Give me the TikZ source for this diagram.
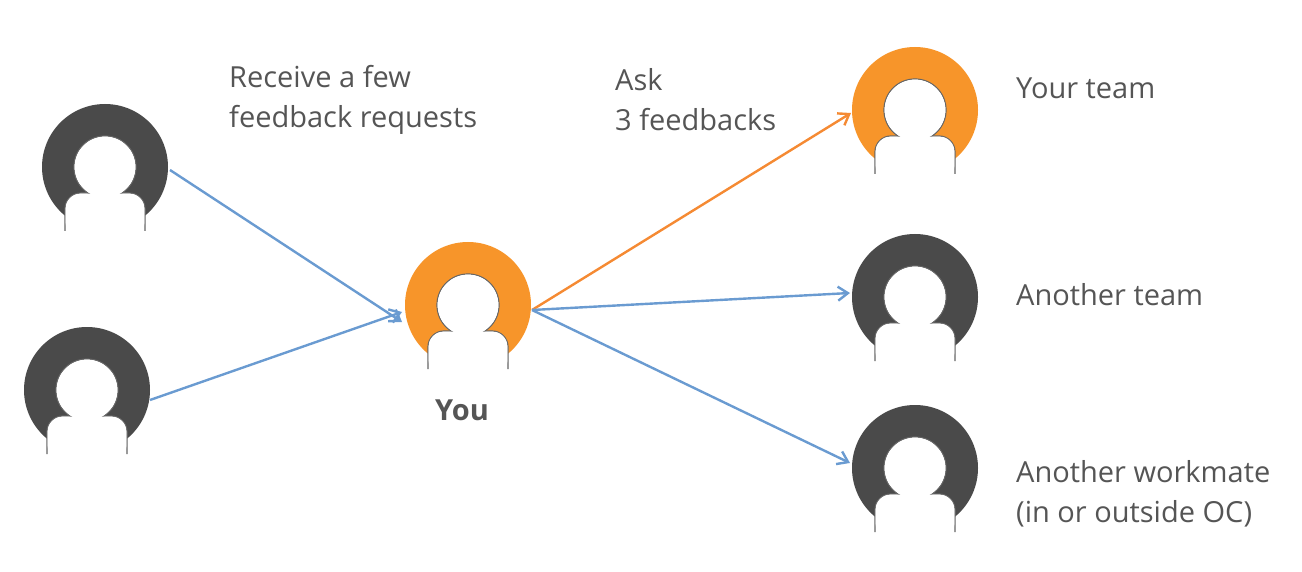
\documentclass[tikz,border=0pt]{standalone}
\usepackage{fontspec}
\setmainfont{Open Sans}
\begin{document}
\begin{tikzpicture}[x=1pt,y=-1pt,
  lbl/.style={font=\fontsize{29}{40}\selectfont, text=txt, align=left, anchor=west, inner sep=0},
  conn/.style={line width=2.4pt, -{Straight Barb[length=10pt,width=14pt]}}]
\definecolor{txt}{HTML}{555555}
\definecolor{dk}{HTML}{4A4A4A}
\definecolor{og}{HTML}{F7952A}
\definecolor{bl}{HTML}{6A9BD1}
\definecolor{oa}{HTML}{F58A33}
\usetikzlibrary{arrows.meta}
\useasboundingbox (0,0) rectangle (1302,572);
\newcommand{\usericon}[4]{% name, x, y, color
  \node[circle, fill=#4, minimum size=126pt, inner sep=0] (#1) at (#2,#3) {};
  \begin{scope}[shift={(#2,#3)}]
    \filldraw[white, draw=dk!85, line width=1.2pt, rounded corners=16pt]
      (-40,64) -- (-40,26) -- (40,26) -- (40,64);
    \filldraw[white, draw=dk!85, line width=1.2pt] (0,0) circle (31);
    \fill[white, rounded corners=15pt] (-39.4,70) -- (-39.4,26.6) -- (39.4,26.6) -- (39.4,70) -- cycle;
    \fill[white] (0,0) circle (30.4);
  \end{scope}}
\usericon{l1}{105}{167}{dk}
\usericon{l2}{87}{390}{dk}
\usericon{you}{468}{305}{og}
\usericon{t1}{915}{110}{og}
\usericon{t2}{915}{297}{dk}
\usericon{t3}{915}{468}{dk}
\coordinate (a1) at (170,170);
\coordinate (a2) at (150,400);
\draw[conn, bl] (a1) -- (402,322);
\draw[conn, bl] (a2) -- (402,312);
\coordinate (o) at (532,310);
\draw[conn, oa] (o) -- (851,113);
\draw[conn, bl] (o) -- (850,293);
\draw[conn, bl] (o) -- (850,463);
\node[lbl] (r) at (229,100) {Receive a few\\feedback requests};
\node[lbl] (ask) at (615,100) {Ask\\3 feedbacks};
\node[lbl] (n1) at (1016,88) {Your team};
\node[lbl] (n2) at (1016,295) {Another team};
\node[lbl] (n3) at (1016,494) {Another workmate\\(in or outside OC)};
\node[font=\fontsize{29}{32}\selectfont\bfseries, text=txt] (yl) at (462,410) {You};
\end{tikzpicture}
\end{document}
